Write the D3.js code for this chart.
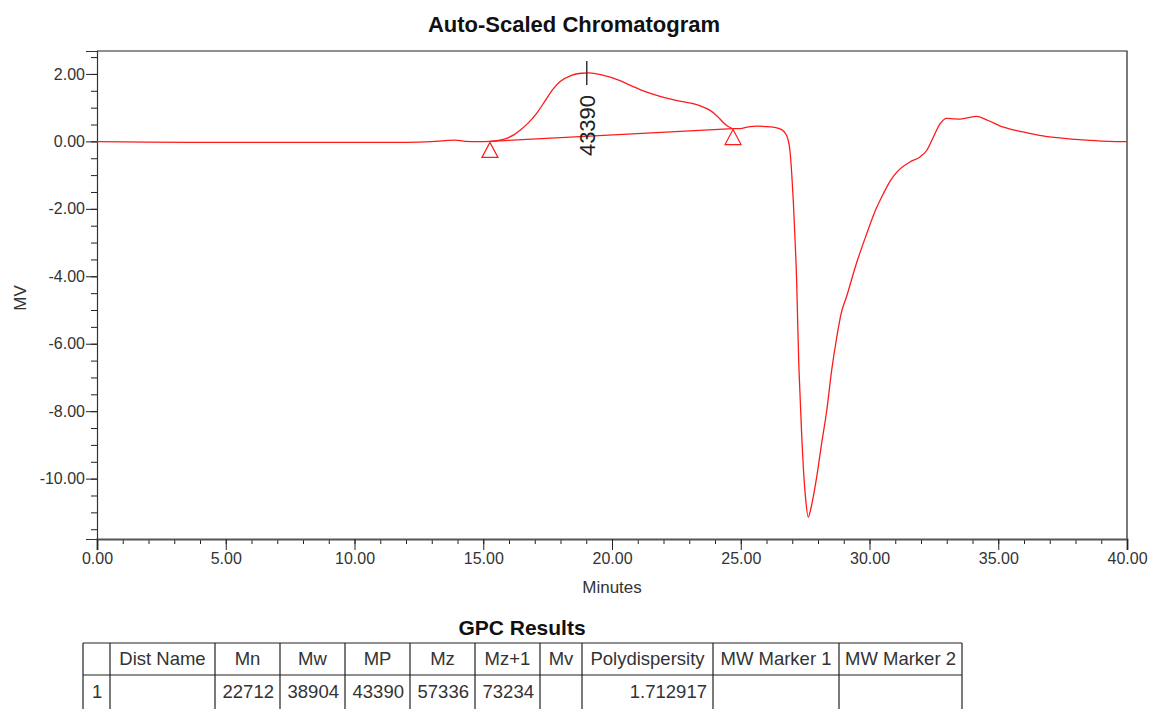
<!DOCTYPE html>
<html>
<head>
<meta charset="utf-8">
<script src="https://cdn.jsdelivr.net/npm/d3@7.9.0/dist/d3.min.js"></script>
<style>
  body { margin: 0; background: #fff; }
  svg { display: block; font-family: "Liberation Sans", Arial, sans-serif; }
</style>
</head>
<body>
<svg id="chart" width="1153" height="709"></svg>
<script>
// chromatogram trace
const minutes = [0, 2, 4, 6, 8, 10, 12, 13, 13.5, 13.9, 14.3, 14.8, 15.26, 15.6, 15.91, 16.2, 16.43, 16.75,
  17.08, 17.4, 17.71, 18.0, 18.4, 18.8, 19.1, 19.6, 20.31, 20.8, 21.35, 21.9, 22.37, 22.8, 23.15, 23.5,
  23.81, 24.1, 24.31, 24.5, 24.7, 24.97, 25.3, 25.62, 26.0, 26.26, 26.59, 26.78, 26.91, 26.98, 27.04,
  27.11, 27.17, 27.2, 27.25, 27.3, 27.37, 27.43, 27.52, 27.62, 27.72, 27.85, 27.95, 28.14, 28.34, 28.53,
  28.73, 28.9, 29.11, 29.5, 29.89, 30.2, 30.54, 30.8, 31.06, 31.57, 31.96, 32.22, 32.48, 32.74, 33.0,
  33.25, 33.51, 33.8, 34.16, 34.55, 35.2, 35.97, 36.6, 37.27, 38.0, 38.56, 39.3, 40.0];
const mv = [-0.01, -0.02, -0.03, -0.03, -0.03, -0.03, -0.03, -0.01, 0.02, 0.04, 0.0, -0.01, 0.0, 0.03,
  0.09, 0.2, 0.33, 0.55, 0.84, 1.2, 1.55, 1.78, 1.95, 2.02, 2.03, 1.97, 1.8, 1.63, 1.46, 1.33, 1.24, 1.17,
  1.12, 1.03, 0.92, 0.74, 0.57, 0.45, 0.38, 0.38, 0.43, 0.45, 0.44, 0.42, 0.35, 0.18, -0.27, -0.96, -1.75,
  -2.94, -4.12, -5.01, -6.49, -7.47, -8.77, -9.66, -10.6, -11.14, -10.9, -10.4, -9.95, -8.96, -7.98, -6.79,
  -5.8, -5.1, -4.6, -3.6, -2.74, -2.1, -1.55, -1.18, -0.91, -0.61, -0.46, -0.27, 0.13, 0.52, 0.68, 0.67,
  0.66, 0.7, 0.74, 0.64, 0.42, 0.28, 0.18, 0.11, 0.06, 0.03, 0.0, -0.01];

// integration baseline start / end
const baseTimes = [15.26, 24.7];
const baseValues = [0.0, 0.38];

// peak label
const peakTime = 19.02;
const peakValue = 2.03;
const peakLabel = "43390";

const xTicks = [0, 5, 10, 15, 20, 25, 30, 35, 40];
const yTicks = [2, 0, -2, -4, -6, -8, -10];

const tableHeaders = ["", "Dist Name", "Mn", "Mw", "MP", "Mz", "Mz+1", "Mv", "Polydispersity", "MW Marker 1", "MW Marker 2"];
const tableRow = ["1", "", "22712", "38904", "43390", "57336", "73234", "", "1.712917", "", ""];

const svg = d3.select("#chart");
const plotL = 97, plotR = 1127, plotT = 51, plotB = 539;

const x = d3.scaleLinear().domain([0, 40]).range([plotL, plotR]);
const y = d3.scaleLinear().domain([-11.79, 2.68]).range([plotB, plotT]);

// plain hyphen for negatives, like the original software
const fmt = d => d.toFixed(2);

// title
svg.append("text").attr("x", 574).attr("y", 32).attr("text-anchor", "middle")
  .attr("font-size", 22).attr("font-weight", "bold").attr("fill", "#111")
  .text("Auto-Scaled Chromatogram");

// frame top + right
svg.append("path")
  .attr("d", `M${plotL},${plotT}H${plotR}V${plotB}`)
  .attr("fill", "none").attr("stroke", "#222").attr("stroke-width", 1.2);

// x axis: minor then major
svg.append("g").attr("transform", `translate(0,${plotB})`)
  .call(d3.axisBottom(x).tickValues(d3.range(0, 41, 1)).tickSize(5).tickFormat(""))
  .call(g => g.select(".domain").remove());
const xAxis = svg.append("g").attr("transform", `translate(0,${plotB})`)
  .call(d3.axisBottom(x).tickValues(xTicks).tickSize(11).tickPadding(3).tickFormat(fmt));
xAxis.select(".domain").attr("stroke", "#555").attr("stroke-width", 2);

// y axis: minor then major
svg.append("g").attr("transform", `translate(${plotL},0)`)
  .call(d3.axisLeft(y).tickValues(d3.range(-11.5, 2.6, 0.5)).tickSize(6).tickFormat(""))
  .call(g => g.select(".domain").remove());
const yAxis = svg.append("g").attr("transform", `translate(${plotL},0)`)
  .call(d3.axisLeft(y).tickValues(yTicks).tickSize(11).tickPadding(1).tickFormat(fmt));
yAxis.select(".domain").attr("stroke", "#333").attr("stroke-width", 1.2);

svg.selectAll(".tick line").attr("stroke", "#222");
svg.selectAll(".tick text").attr("font-size", 16).attr("fill", "#333")
  .attr("font-family", "Liberation Sans, Arial, sans-serif");

// axis labels
svg.append("text").attr("x", 612).attr("y", 593).attr("text-anchor", "middle")
  .attr("font-size", 17).attr("fill", "#333").text("Minutes");
svg.append("text").attr("transform", "translate(26,298) rotate(-90)").attr("text-anchor", "middle")
  .attr("font-size", 17).attr("fill", "#333").text("MV");

// trace
const pts = minutes.map((m, i) => [m, mv[i]]);
const line = d3.line().x(d => x(d[0])).y(d => y(d[1])).curve(d3.curveMonotoneX);
svg.append("path").datum(pts).attr("d", line)
  .attr("fill", "none").attr("stroke", "#ff1a1a").attr("stroke-width", 1.3);

// baseline under the peak
svg.append("line")
  .attr("x1", x(baseTimes[0])).attr("y1", y(baseValues[0]))
  .attr("x2", x(baseTimes[1])).attr("y2", y(baseValues[1]))
  .attr("stroke", "#ff1a1a").attr("stroke-width", 1.2);

// triangles at baseline ends
baseTimes.forEach((t, i) => {
  const cx = x(t), cy = y(baseValues[i]) + 1;
  svg.append("path")
    .attr("d", `M${cx},${cy}L${cx - 8},${cy + 15}L${cx + 8},${cy + 15}Z`)
    .attr("fill", "none").attr("stroke", "#ff1a1a").attr("stroke-width", 1.2);
});

// peak marker and label
const px = x(peakTime), py = y(peakValue);
svg.append("line").attr("x1", px).attr("x2", px).attr("y1", py - 12).attr("y2", py + 12)
  .attr("stroke", "#333").attr("stroke-width", 1.5);
svg.append("text").attr("transform", `translate(${px},${py + 22}) rotate(-90)`)
  .attr("text-anchor", "end").attr("dy", "0.36em")
  .attr("font-size", 22).attr("fill", "#222").text(peakLabel);

// GPC results table
svg.append("text").attr("x", 522).attr("y", 635).attr("text-anchor", "middle")
  .attr("font-size", 21).attr("font-weight", "bold").attr("fill", "#111").text("GPC Results");

const colEdges = [83, 110, 215, 280, 345, 410, 475, 540, 582, 713, 839, 962];
const rowEdges = [643, 675, 712];
const tbl = svg.append("g");
tbl.selectAll("line.v").data(colEdges).join("line")
  .attr("x1", d => d).attr("x2", d => d).attr("y1", rowEdges[0]).attr("y2", rowEdges[2])
  .attr("stroke", "#222").attr("stroke-width", 1.2);
tbl.selectAll("line.h").data(rowEdges).join("line")
  .attr("x1", colEdges[0]).attr("x2", colEdges[colEdges.length - 1]).attr("y1", d => d).attr("y2", d => d)
  .attr("stroke", "#222").attr("stroke-width", 1.2);

tableHeaders.forEach((h, i) => {
  tbl.append("text").attr("x", (colEdges[i] + colEdges[i + 1]) / 2).attr("y", 665)
    .attr("text-anchor", "middle").attr("font-size", 18.5).attr("fill", "#333").text(h);
});
tableRow.forEach((v, i) => {
  const first = i === 0;
  tbl.append("text")
    .attr("x", first ? colEdges[i] + 9 : colEdges[i + 1] - 6).attr("y", 698)
    .attr("text-anchor", first ? "start" : "end").attr("font-size", 18.5).attr("fill", "#333").text(v);
});
</script>
</body>
</html>
